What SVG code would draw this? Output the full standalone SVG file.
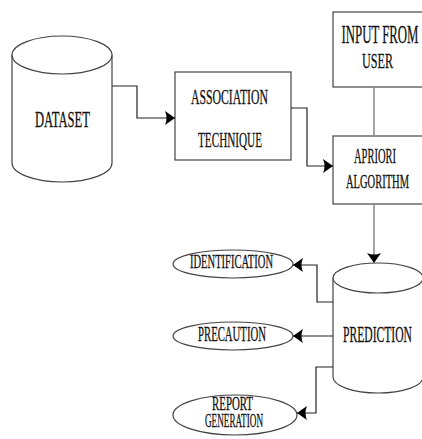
<svg xmlns="http://www.w3.org/2000/svg" width="422" height="439" viewBox="0 0 422 439">
<style>
.shape{fill:#fff;stroke:#444;stroke-width:1.2}
.conn{fill:none;stroke:#222;stroke-width:1.2}
.gray{fill:none;stroke:#888;stroke-width:1.5}
text{font-family:"Liberation Serif","Times New Roman",serif;fill:#111;stroke:#111;stroke-width:0.3;text-anchor:middle}
</style>
<defs>
<marker id="arr" markerUnits="userSpaceOnUse" markerWidth="12" markerHeight="16" refX="10" refY="8" orient="auto">
<path d="M0,1 Q3,8 0,15 L10,8 Z" fill="#000"/>
</marker>
</defs>
<rect width="422" height="439" fill="#fff"/>
<g id="dataset">
<path class="shape" d="M12,55 V163 A50,19 0 0 0 112,163 V55"/>
<ellipse class="shape" cx="62" cy="55" rx="50" ry="19"/>
<text x="62.5" y="127" font-size="23" textLength="55" lengthAdjust="spacingAndGlyphs">DATASET</text>
</g>
<g id="association">
<rect class="shape" x="175" y="72" width="116" height="88"/>
<text x="229.5" y="104" font-size="21" textLength="77" lengthAdjust="spacingAndGlyphs">ASSOCIATION</text>
<text x="230" y="147" font-size="21" textLength="64" lengthAdjust="spacingAndGlyphs">TECHNIQUE</text>
</g>
<g id="input">
<rect class="shape" x="333" y="12" width="90" height="75"/>
<text x="380" y="43" font-size="26" textLength="77" lengthAdjust="spacingAndGlyphs">INPUT FROM</text>
<text x="377.5" y="68" font-size="22" textLength="31" lengthAdjust="spacingAndGlyphs">USER</text>
</g>
<g id="apriori">
<rect class="shape" x="333" y="136" width="90" height="68"/>
<text x="375" y="163" font-size="21" textLength="42" lengthAdjust="spacingAndGlyphs">APRIORI</text>
<text x="377.5" y="188" font-size="19" textLength="63" lengthAdjust="spacingAndGlyphs">ALGORITHM</text>
</g>
<g id="prediction">
<path class="shape" d="M333,278 V377 A45,16 0 0 0 423,377 V278"/>
<ellipse class="shape" cx="378" cy="278" rx="45" ry="15"/>
<text x="377.5" y="342" font-size="23" textLength="69" lengthAdjust="spacingAndGlyphs">PREDICTION</text>
</g>
<g id="identification">
<ellipse class="shape" cx="233" cy="264" rx="60" ry="14"/>
<text x="231.5" y="268" font-size="19" textLength="83" lengthAdjust="spacingAndGlyphs">IDENTIFICATION</text>
</g>
<g id="precaution">
<ellipse class="shape" cx="233" cy="336" rx="60" ry="14"/>
<text x="232" y="341" font-size="20" textLength="68" lengthAdjust="spacingAndGlyphs">PRECAUTION</text>
</g>
<g id="report">
<ellipse class="shape" cx="235" cy="415" rx="62" ry="20"/>
<text x="232.5" y="410" font-size="18" textLength="41" lengthAdjust="spacingAndGlyphs">REPORT</text>
<text x="234" y="427" font-size="19" textLength="58" lengthAdjust="spacingAndGlyphs">GENERATION</text>
</g>
<g id="connectors">
<path class="conn" d="M112,86 H137 V118 H175" marker-end="url(#arr)"/>
<path class="conn" d="M291,108 H307 V166 H333" marker-end="url(#arr)"/>
<path class="gray" d="M374,87 V136"/>
<path class="gray" d="M374,204 V263" marker-end="url(#arr)"/>
<path class="conn" d="M333,302 H317 V265 H293" marker-end="url(#arr)"/>
<path class="conn" d="M333,336 H293" marker-end="url(#arr)"/>
<path class="conn" d="M333,367 H316 V413 H297" marker-end="url(#arr)"/>
</g>
</svg>
